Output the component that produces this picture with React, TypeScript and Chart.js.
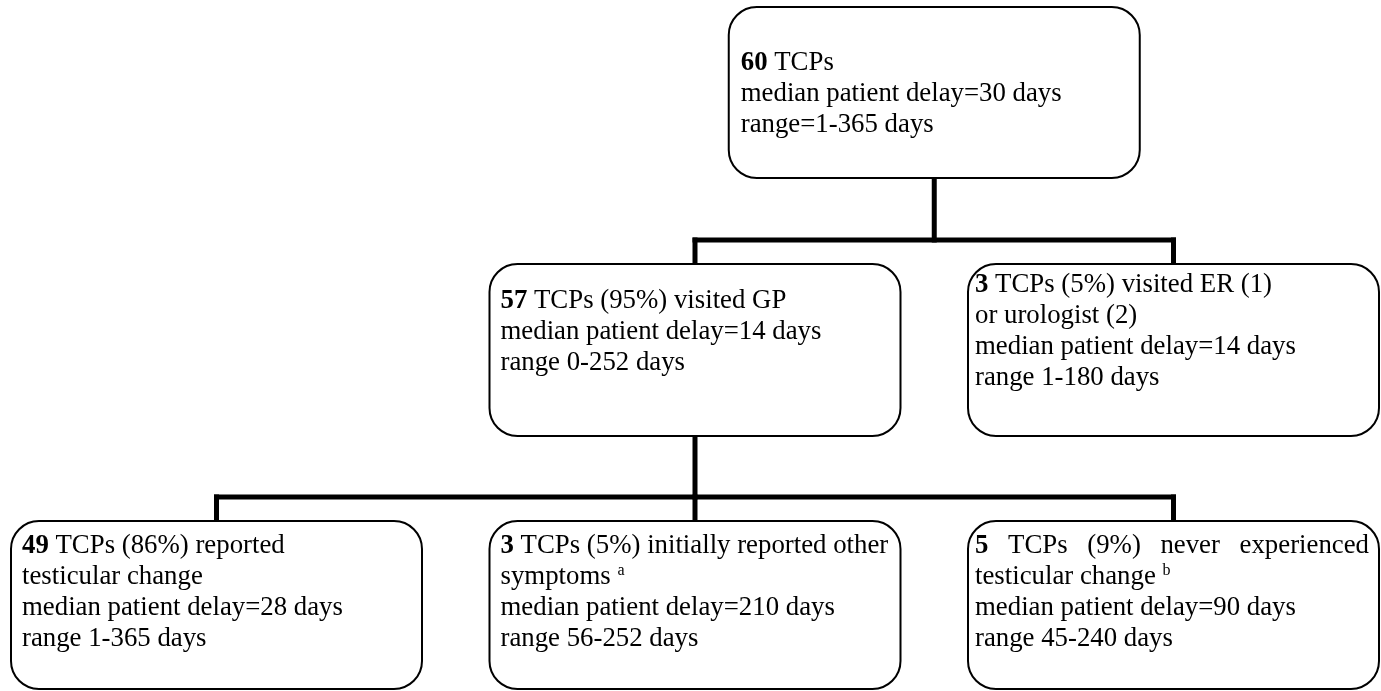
import React, { useEffect, useRef } from "react";
import { Chart, registerables } from "chart.js";

Chart.register(...registerables);

// ---- data ----
const nodeCounts = [60, 57, 3, 49, 3, 5];
const nodeDescriptions: string[][] = [
  ["TCPs"],
  ["TCPs (95%) visited GP"],
  ["TCPs (5%) visited ER (1)", "or urologist (2)"],
  ["TCPs (86%) reported", "testicular change"],
  ["TCPs (5%) initially reported other", "symptoms"],
  ["TCPs (9%) never experienced", "testicular change"],
];
const nodeFootnotes = ["", "", "", "", "a", "b"];
const medianDelays = [30, 14, 14, 28, 210, 90];
const rangeLow = [1, 0, 1, 1, 56, 45];
const rangeHigh = [365, 252, 180, 365, 252, 240];
const rangeJoiners = ["=", " ", " ", " ", " ", " "];
const nodeParents = [-1, 0, 0, 1, 1, 1];
const nodeLevels = [0, 1, 1, 2, 2, 2];
const nodeColumns = [1.5, 1, 2, 0, 1, 2];

// ---- layout / style ----
const W = 1381;
const H = 691;
const X_MIN = -216.5 / 478.5;
const X_MAX = (W - 216.5) / 478.5;
const Y_MIN = -7 / 257;
const Y_MAX = (H - 7) / 257;
const BOX_W = 411;
const BOX_H = [171, 172, 168];
const RADIUS = 28;
const TEXT_PAD_X = [12, 11, 7, 11, 11, 7];
const TEXT_PAD_RIGHT = 10;
const FIRST_BASELINE = [63, 44, 28, 32, 32, 32];
const LINE_H = 31;
const FONT_PX = 26.8;
const SUP_PX = 16;
const SUP_RAISE = 9;
const JUSTIFY_FIRST = [false, false, false, false, false, true];
const BUS_GAP = 24;
const FAMILY = '"Liberation Serif", "Times New Roman", Times, serif';

type Seg = { text: string; bold?: boolean; sup?: boolean };

function buildLines(i: number): Seg[][] {
  const lines: Seg[][] = [];
  const desc = nodeDescriptions[i];
  desc.forEach((d, k) => {
    const line: Seg[] = [];
    if (k === 0) {
      line.push({ text: String(nodeCounts[i]), bold: true });
      line.push({ text: " " + d });
    } else {
      line.push({ text: d });
    }
    if (k === desc.length - 1 && nodeFootnotes[i]) {
      line.push({ text: " " });
      line.push({ text: nodeFootnotes[i], sup: true });
    }
    lines.push(line);
  });
  lines.push([{ text: "median patient delay=" + medianDelays[i] + " days" }]);
  lines.push([
    {
      text:
        "range" + rangeJoiners[i] + rangeLow[i] + "-" + rangeHigh[i] + " days",
    },
  ]);
  return lines;
}

function fontFor(s: Seg) {
  if (s.sup) return `${SUP_PX}px ${FAMILY}`;
  return `${s.bold ? "bold " : ""}${FONT_PX}px ${FAMILY}`;
}

function roundRectPath(
  ctx: CanvasRenderingContext2D,
  x: number,
  y: number,
  w: number,
  h: number,
  r: number
) {
  ctx.beginPath();
  ctx.moveTo(x + r, y);
  ctx.lineTo(x + w - r, y);
  ctx.arcTo(x + w, y, x + w, y + r, r);
  ctx.lineTo(x + w, y + h - r);
  ctx.arcTo(x + w, y + h, x + w - r, y + h, r);
  ctx.lineTo(x + r, y + h);
  ctx.arcTo(x, y + h, x, y + h - r, r);
  ctx.lineTo(x, y + r);
  ctx.arcTo(x, y, x + r, y, r);
  ctx.closePath();
}

const flowPlugin = {
  id: "flowchart",
  beforeDraw(chart: any) {
    const ctx = chart.ctx as CanvasRenderingContext2D;
    ctx.save();
    ctx.fillStyle = "#ffffff";
    ctx.fillRect(0, 0, chart.width, chart.height);
    ctx.restore();
  },
  afterDatasetsDraw(chart: any) {
    const ctx = chart.ctx as CanvasRenderingContext2D;
    const xs = chart.scales.x;
    const ys = chart.scales.y;
    const cx = (i: number) => xs.getPixelForValue(nodeColumns[i]);
    const top = (i: number) => ys.getPixelForValue(nodeLevels[i]);
    const bottom = (i: number) => top(i) + BOX_H[nodeLevels[i]];

    ctx.save();
    // connectors
    ctx.strokeStyle = "#000";
    ctx.lineWidth = 5;
    ctx.lineCap = "square";
    nodeCounts.forEach((_, p) => {
      const kids = nodeParents
        .map((par, k) => (par === p ? k : -1))
        .filter((k) => k >= 0);
      if (!kids.length) return;
      const busY = Math.min(...kids.map(top)) - BUS_GAP;
      const px = cx(p);
      ctx.beginPath();
      ctx.moveTo(px, bottom(p));
      ctx.lineTo(px, busY);
      ctx.stroke();
      const xsKids = kids.map(cx);
      ctx.beginPath();
      ctx.moveTo(Math.min(...xsKids), busY);
      ctx.lineTo(Math.max(...xsKids), busY);
      ctx.stroke();
      kids.forEach((k) => {
        ctx.beginPath();
        ctx.moveTo(cx(k), busY);
        ctx.lineTo(cx(k), top(k));
        ctx.stroke();
      });
    });

    // boxes and text
    nodeCounts.forEach((_, i) => {
      const x0 = cx(i) - BOX_W / 2;
      const y0 = top(i);
      const h = BOX_H[nodeLevels[i]];
      roundRectPath(ctx, x0, y0, BOX_W, h, RADIUS);
      ctx.fillStyle = "#ffffff";
      ctx.fill();
      ctx.lineWidth = 2;
      ctx.strokeStyle = "#000";
      ctx.stroke();

      ctx.fillStyle = "#000";
      ctx.textBaseline = "alphabetic";
      ctx.textAlign = "left";
      const lines = buildLines(i);
      lines.forEach((line, li) => {
        const baseY = y0 + FIRST_BASELINE[i] + li * LINE_H;
        let x = x0 + TEXT_PAD_X[i];
        if (li === 0 && JUSTIFY_FIRST[i]) {
          // split into words keeping font
          const words: Seg[] = [];
          line.forEach((s) => {
            s.text
              .split(" ")
              .filter((w) => w.length)
              .forEach((w) => words.push({ text: w, bold: s.bold, sup: s.sup }));
          });
          const widths = words.map((w) => {
            ctx.font = fontFor(w);
            return ctx.measureText(w.text).width;
          });
          const total = widths.reduce((a, b) => a + b, 0);
          const avail = BOX_W - TEXT_PAD_X[i] - TEXT_PAD_RIGHT;
          const gap = (avail - total) / Math.max(1, words.length - 1);
          words.forEach((w, wi) => {
            ctx.font = fontFor(w);
            ctx.fillText(w.text, x, baseY);
            x += widths[wi] + gap;
          });
          return;
        }
        line.forEach((s) => {
          ctx.font = fontFor(s);
          ctx.fillText(s.text, x, s.sup ? baseY - SUP_RAISE : baseY);
          x += ctx.measureText(s.text).width;
        });
      });
    });
    ctx.restore();
  },
};

export default function App() {
  const ref = useRef<HTMLCanvasElement | null>(null);
  useEffect(() => {
    if (!ref.current) return;
    const chart = new Chart(ref.current, {
      type: "scatter",
      data: {
        datasets: [
          {
            label: "nodes",
            data: nodeColumns.map((c, i) => ({ x: c, y: nodeLevels[i] })),
            pointRadius: 0,
            pointHoverRadius: 0,
          },
        ],
      },
      options: {
        responsive: false,
        animation: false,
        events: [],
        layout: { padding: 0 },
        plugins: {
          legend: { display: false },
          tooltip: { enabled: false },
          title: { display: false },
        },
        scales: {
          x: { type: "linear", min: X_MIN, max: X_MAX, display: false },
          y: {
            type: "linear",
            min: Y_MIN,
            max: Y_MAX,
            reverse: true,
            display: false,
          },
        },
      },
      plugins: [flowPlugin],
    } as any);
    return () => chart.destroy();
  }, []);
  return (
    <div
      style={{
        position: "fixed",
        left: 0,
        top: 0,
        width: W,
        height: H,
        background: "#fff",
      }}
    >
      <canvas ref={ref} width={W} height={H} style={{ display: "block" }} />
    </div>
  );
}
